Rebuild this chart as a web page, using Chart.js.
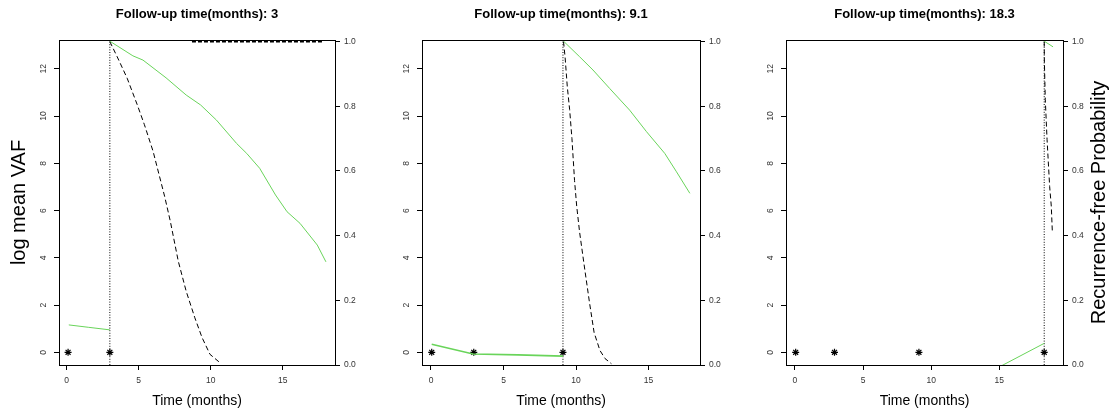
<!DOCTYPE html>
<html><head><meta charset="utf-8">
<script src="https://cdn.jsdelivr.net/npm/chart.js@4.4.1/dist/chart.umd.min.js"></script>
<style>
html,body{margin:0;padding:0;background:#fff;}
#wrap{position:relative;width:1110px;height:416px;overflow:hidden;background:#fff;}
.panel{position:absolute;top:0;width:370px;height:416px;}
</style></head><body>
<div id="wrap">
<div class="panel" style="left:0px"><canvas id="c1"></canvas></div>
<div class="panel" style="left:370px"><canvas id="c2"></canvas></div>
<div class="panel" style="left:740px"><canvas id="c3"></canvas></div>
</div>
<script>
// ---------- data ----------
const followUpMonths = [3, 9.1, 18.3];
const panelTitles = ['Follow-up time(months): 3', 'Follow-up time(months): 9.1', 'Follow-up time(months): 18.3'];

// Panel 1 (follow-up 3)
const p1SampleTimes = [0.1, 3];
const p1SampleVaf = [0, 0];
const p1ObsTime = [0.15, 1.5, 3.0];
const p1ObsVaf = [1.16, 1.06, 0.95];
const p1PredTime = [3.0, 4.6, 5.3, 6.9, 8.3, 9.3, 10.4, 11.8, 12.5, 13.4, 14.5, 15.3, 16.2, 17.4, 18.0];
const p1PredVaf = [13.17, 12.55, 12.37, 11.62, 10.89, 10.47, 9.83, 8.84, 8.42, 7.79, 6.66, 5.95, 5.46, 4.54, 3.83];
const p1SurvTime = [3.0, 3.5, 4.2, 4.9, 5.4, 6.0, 6.8, 7.2, 7.75, 8.3, 8.9, 9.4, 9.95, 10.65];
const p1SurvProb = [1.0, 0.954, 0.887, 0.805, 0.743, 0.661, 0.522, 0.444, 0.321, 0.228, 0.146, 0.085, 0.033, 0.007];
const p1RefTime = [8.7, 17.8];
const p1RefProb = [1.0, 1.0];

// Panel 2 (follow-up 9.1)
const p2SampleTimes = [0.05, 2.95, 9.1];
const p2SampleVaf = [0, 0, 0];
const p2ObsTime = [0.05, 2.9, 6.0, 9.1];
const p2ObsVaf = [0.34, -0.07, -0.11, -0.16];
const p2PredTime = [9.14, 10.25, 11.17, 12.32, 13.7, 14.86, 16.12, 16.93, 17.85];
const p2PredVaf = [13.17, 12.51, 11.95, 11.17, 10.25, 9.34, 8.42, 7.64, 6.73];
const p2SurvTime = [9.14, 9.25, 9.4, 9.56, 9.72, 9.9, 10.05, 10.25, 10.59, 10.94, 11.25, 11.65, 12.0, 12.44];
const p2SurvProb = [1.0, 0.95, 0.86, 0.79, 0.70, 0.57, 0.49, 0.41, 0.30, 0.19, 0.10, 0.045, 0.02, 0.004];

// Panel 3 (follow-up 18.3)
const p3SampleTimes = [0.05, 2.9, 9.1, 18.3];
const p3SampleVaf = [0, 0, 0, 0];
const p3ObsTime = [15.0, 18.3];
const p3ObsVaf = [-0.62, 0.38];
const p3PredTime = [18.3, 18.95];
const p3PredVaf = [13.17, 12.93];
const p3SurvTime = [18.3, 18.31, 18.38, 18.51, 18.7, 18.82, 18.9];
const p3SurvProb = [1.0, 0.943, 0.82, 0.697, 0.552, 0.491, 0.409];

// ---------- styling / layout ----------
const FONT = "'Liberation Sans', Arial, Helvetica, sans-serif";
const GREEN = 'rgb(105,212,90)';
const VAF_MIN = -0.537, VAF_MAX = 13.22;
const PROB_MIN = 0, PROB_MAX = 1.005;
const TICK_COLOR = '#333';

function pts(xs, ys) { return xs.map((x, i) => ({ x: x, y: ys[i] })); }

const framePlugin = {
  id: 'frame',
  afterDatasetsDraw(chart) {
    const a = chart.chartArea, ctx = chart.ctx;
    ctx.save();
    ctx.strokeStyle = '#000';
    ctx.lineWidth = 1;
    ctx.strokeRect(Math.round(a.left) + 0.5, Math.round(a.top) + 0.5,
                   Math.round(a.right - a.left), Math.round(a.bottom - a.top));
    ctx.restore();
  }
};

const rightTitlePlugin = {
  id: 'rightTitle',
  afterDraw(chart, args, opts) {
    if (!opts || !opts.text) return;
    const a = chart.chartArea, ctx = chart.ctx;
    ctx.save();
    ctx.translate(opts.x, (a.top + a.bottom) / 2);
    ctx.rotate(-Math.PI / 2);
    ctx.font = opts.size + 'px ' + FONT;
    ctx.fillStyle = '#000';
    ctx.textAlign = 'center';
    ctx.textBaseline = 'middle';
    ctx.fillText(opts.text, 0, 0);
    ctx.restore();
  }
};

function tickGrid() {
  return { display: true, drawOnChartArea: false, drawTicks: true, tickLength: 5, color: '#000', lineWidth: 1 };
}

function makePanel(id, p) {
  const datasets = [
    { data: pts(p.obsTime, p.obsVaf), yAxisID: 'y', showLine: true, borderColor: GREEN, borderWidth: p.obsWidth, pointRadius: 0 },
    { data: pts(p.predTime, p.predVaf), yAxisID: 'y', showLine: true, borderColor: GREEN, borderWidth: 1, pointRadius: 0 },
    { data: pts(p.survTime, p.survProb), yAxisID: 'y2', showLine: true, borderColor: '#000', borderWidth: 1, borderDash: [5, 3], pointRadius: 0 },
    { data: [{ x: p.followUp, y: VAF_MIN }, { x: p.followUp, y: VAF_MAX }], yAxisID: 'y', showLine: true, borderColor: '#000', borderWidth: 1, borderDash: [1, 1.6], pointRadius: 0 },
    { data: pts(p.sampleTimes, p.sampleVaf), yAxisID: 'y', showLine: false, pointStyle: 'star', pointRadius: 3.5, borderColor: '#000', borderWidth: 1.2, backgroundColor: '#000' }
  ];
  if (p.refTime) {
    datasets.push({ data: pts(p.refTime, p.refProb), yAxisID: 'y2', showLine: true, borderColor: '#000', borderWidth: 2, borderDash: [4, 2], pointRadius: 0 });
  }
  return new Chart(document.getElementById(id), {
    type: 'scatter',
    data: { datasets: datasets },
    plugins: [framePlugin, rightTitlePlugin],
    options: {
      responsive: true,
      maintainAspectRatio: false,
      animation: false,
      devicePixelRatio: 1,
      layout: { padding: 0 },
      plugins: {
        legend: { display: false },
        tooltip: { enabled: false },
        title: {
          display: true, text: p.title, fullSize: false, position: 'top', align: 'center',
          color: '#000', font: { family: FONT, size: 13, weight: 'bold' },
          padding: { top: 7, bottom: 17.4 }
        },
        rightTitle: p.rightTitle || {}
      },
      scales: {
        x: {
          type: 'linear', position: 'bottom', min: p.xMin, max: p.xMax,
          ticks: { stepSize: 5, includeBounds: false, maxRotation: 0, padding: 6, color: TICK_COLOR, font: { family: FONT, size: 8.5 } },
          grid: tickGrid(), border: { display: false },
          title: { display: true, text: 'Time (months)', color: '#000', font: { family: FONT, size: 14 }, padding: { top: 0, bottom: 6 } },
          afterFit(s) { s.height = 51; }
        },
        y: {
          type: 'linear', position: 'left', min: VAF_MIN, max: VAF_MAX,
          ticks: { stepSize: 2, includeBounds: false, minRotation: 90, maxRotation: 90, crossAlign: 'center', padding: 6, color: TICK_COLOR, font: { family: FONT, size: 8.5 } },
          grid: tickGrid(), border: { display: false },
          title: { display: !!p.leftTitle, text: p.leftTitle || '', color: '#000', font: { family: FONT, size: 20 }, padding: { top: 7, bottom: 0 } },
          afterFit(s) { s.width = p.leftW; }
        },
        y2: {
          type: 'linear', position: 'right', min: PROB_MIN, max: PROB_MAX,
          ticks: { stepSize: 0.2, includeBounds: false, padding: 4, color: TICK_COLOR, font: { family: FONT, size: 8.5 },
                   callback: v => Number(v).toFixed(1) },
          grid: tickGrid(), border: { display: false },
          afterFit(s) { s.width = p.rightW; }
        }
      }
    }
  });
}

makePanel('c1', {
  title: panelTitles[0], followUp: followUpMonths[0], xMin: -0.53, xMax: 18.63, leftW: 59, rightW: 35,
  leftTitle: 'log mean VAF',
  sampleTimes: p1SampleTimes, sampleVaf: p1SampleVaf, obsTime: p1ObsTime, obsVaf: p1ObsVaf, obsWidth: 1,
  predTime: p1PredTime, predVaf: p1PredVaf, survTime: p1SurvTime, survProb: p1SurvProb,
  refTime: p1RefTime, refProb: p1RefProb
});
makePanel('c2', {
  title: panelTitles[1], followUp: followUpMonths[1], xMin: -0.62, xMax: 18.55, leftW: 52, rightW: 40,
  sampleTimes: p2SampleTimes, sampleVaf: p2SampleVaf, obsTime: p2ObsTime, obsVaf: p2ObsVaf, obsWidth: 1.6,
  predTime: p2PredTime, predVaf: p2PredVaf, survTime: p2SurvTime, survProb: p2SurvProb
});
makePanel('c3', {
  title: panelTitles[2], followUp: followUpMonths[2], xMin: -0.66, xMax: 19.68, leftW: 46, rightW: 47,
  rightTitle: { text: 'Recurrence-free Probability', x: 359, size: 20 },
  sampleTimes: p3SampleTimes, sampleVaf: p3SampleVaf, obsTime: p3ObsTime, obsVaf: p3ObsVaf, obsWidth: 1,
  predTime: p3PredTime, predVaf: p3PredVaf, survTime: p3SurvTime, survProb: p3SurvProb
});
</script>
</body></html>
